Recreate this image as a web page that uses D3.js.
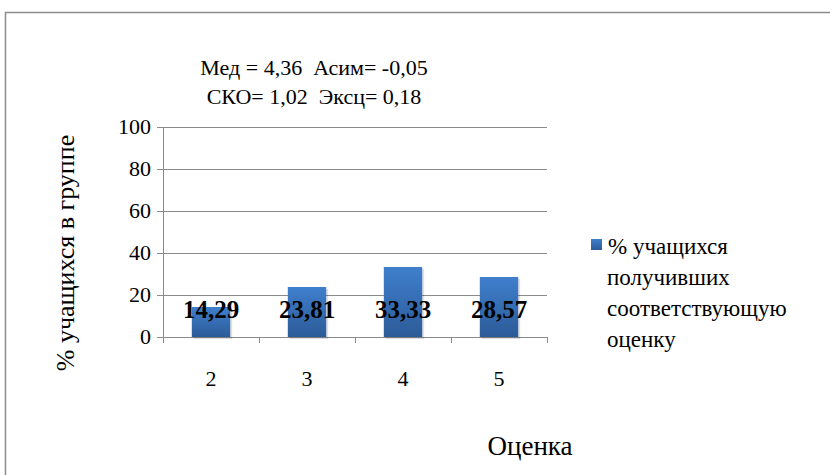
<!DOCTYPE html>
<html>
<head>
<meta charset="utf-8">
<script src="https://cdn.jsdelivr.net/npm/d3@7"></script>
</head>
<body style="margin:0">
<script>
// chart data
const grades = ['2', '3', '4', '5'];
const percents = [14.29, 23.81, 33.33, 28.57];
const yTicks = [0, 20, 40, 60, 80, 100];
const statsLines = ['Мед = 4,36  Асим= -0,05', 'СКО= 1,02  Эксц= 0,18'];
const legendLines = ['% учащихся', 'получивших', 'соответствующую', 'оценку'];

const W = 830, H = 475;
const margin = { top: 127, right: 283, bottom: 138, left: 163 };
const width = W - margin.left - margin.right;
const height = H - margin.top - margin.bottom;

const svg = d3.select('body')
  .append('svg')
  .attr('width', W)
  .attr('height', H);

// bar gradient
const grad = svg.append('defs').append('linearGradient')
  .attr('id', 'barGrad')
  .attr('x1', 0).attr('y1', 0).attr('x2', 0).attr('y2', 1);
grad.append('stop').attr('offset', '0%').attr('stop-color', '#3f7fcd');
grad.append('stop').attr('offset', '100%').attr('stop-color', '#2c5b98');

// outer frame
svg.append('rect')
  .attr('x', 5.5).attr('y', 12.5)
  .attr('width', W + 10).attr('height', H + 10)
  .attr('fill', 'none')
  .attr('stroke', '#8c8c8c')
  .attr('stroke-width', 1.5);

const g = svg.append('g')
  .attr('transform', `translate(${margin.left},${margin.top})`);

const x = d3.scaleBand()
  .domain(grades)
  .range([0, width])
  .paddingInner(0.6)
  .paddingOuter(0.3);

const y = d3.scaleLinear()
  .domain([0, 100])
  .range([height, 0]);

// gridlines
g.append('g')
  .selectAll('line')
  .data(yTicks)
  .enter().append('line')
  .attr('x1', -6).attr('x2', width)
  .attr('y1', d => Math.round(y(d)) + 0.5)
  .attr('y2', d => Math.round(y(d)) + 0.5)
  .attr('stroke', '#8a8a8a');

// y axis line
g.append('line')
  .attr('x1', 0.5).attr('x2', 0.5)
  .attr('y1', 0).attr('y2', height)
  .attr('stroke', '#8a8a8a');

// x axis ticks (between categories)
g.append('g')
  .selectAll('line')
  .data(d3.range(grades.length + 1))
  .enter().append('line')
  .attr('x1', i => Math.round(i * x.step()) + 0.5)
  .attr('x2', i => Math.round(i * x.step()) + 0.5)
  .attr('y1', height).attr('y2', height + 6)
  .attr('stroke', '#8a8a8a');

// y tick labels
g.selectAll('.ytick')
  .data(yTicks)
  .enter().append('text')
  .attr('class', 'ytick')
  .style('font-family', "'Liberation Serif'")
  .style('font-size', '22px')
  .attr('x', -12)
  .attr('y', d => y(d) + 7)
  .attr('text-anchor', 'end')
  .text(d => String(d));

// x tick labels
g.selectAll('.xtick')
  .data(grades)
  .enter().append('text')
  .attr('class', 'xtick')
  .style('font-family', "'Liberation Serif'")
  .style('font-size', '22px')
  .attr('x', d => x(d) + x.bandwidth() / 2)
  .attr('y', height + 49)
  .attr('text-anchor', 'middle')
  .text(d => d);

// bars with soft shadow
g.selectAll('.shadow')
  .data(percents)
  .enter().append('rect')
  .attr('class', 'shadow')
  .attr('x', (d, i) => x(grades[i]) + 2)
  .attr('y', d => y(d) + 2)
  .attr('width', x.bandwidth())
  .attr('height', d => height - y(d))
  .attr('fill', '#000')
  .attr('opacity', 0.12);

g.selectAll('.bar')
  .data(percents)
  .enter().append('rect')
  .attr('class', 'bar')
  .attr('x', (d, i) => x(grades[i]))
  .attr('y', d => y(d))
  .attr('width', x.bandwidth())
  .attr('height', d => height - y(d))
  .attr('fill', 'url(#barGrad)');

// value labels
g.selectAll('.val')
  .data(percents)
  .enter().append('text')
  .attr('class', 'val')
  .style('font-family', "'Liberation Serif'")
  .style('font-size', '25px')
  .style('font-weight', 'bold')
  .attr('x', (d, i) => x(grades[i]) + x.bandwidth() / 2)
  .attr('y', y(13) + 8)
  .attr('text-anchor', 'middle')
  .text(d => d.toFixed(2).replace('.', ','));

// stats text
svg.selectAll('.stats')
  .data(statsLines)
  .enter().append('text')
  .attr('class', 'stats')
  .style('font-family', "'Liberation Serif'")
  .style('font-size', '22px')
  .style('white-space', 'pre')
  .attr('x', 314)
  .attr('y', (d, i) => 75 + i * 29)
  .attr('text-anchor', 'middle')
  .text(d => d);

// y axis title
svg.append('text')
  .style('font-family', "'Liberation Serif'")
  .style('font-size', '26px')
  .attr('transform', 'translate(74,253) rotate(-90)')
  .attr('text-anchor', 'middle')
  .text('% учащихся в группе');

// x axis title
svg.append('text')
  .style('font-family', "'Liberation Serif'")
  .style('font-size', '27px')
  .attr('x', 530)
  .attr('y', 455)
  .attr('text-anchor', 'middle')
  .text('Оценка');

// legend
svg.append('rect')
  .attr('x', 591).attr('y', 239)
  .attr('width', 11).attr('height', 11)
  .attr('fill', 'url(#barGrad)');
svg.selectAll('.leg')
  .data(legendLines)
  .enter().append('text')
  .attr('class', 'leg')
  .style('font-family', "'Liberation Serif'")
  .style('font-size', '23px')
  .attr('x', (d, i) => i === 0 ? 608 : 607)
  .attr('y', (d, i) => 254 + i * 31)
  .text(d => d);
</script>
</body>
</html>
